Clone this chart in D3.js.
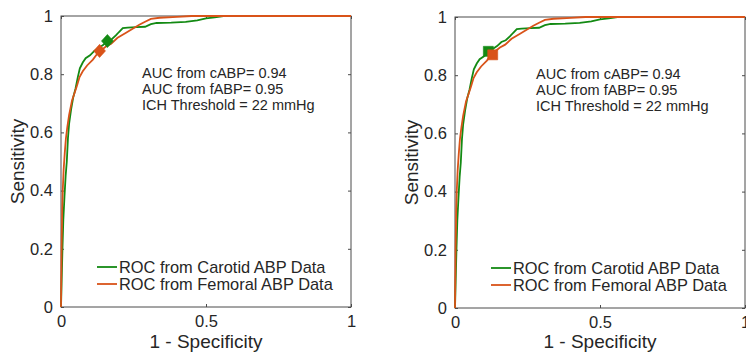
<!DOCTYPE html>
<html>
<head>
<meta charset="utf-8">
<script src="https://cdn.jsdelivr.net/npm/d3@7/dist/d3.min.js"></script>
<style>
  html, body { margin: 0; padding: 0; background: #fff; }
  svg { display: block; }
  text { font-family: "Liberation Sans", Arial, Helvetica, sans-serif; fill: #262626; }
</style>
</head>
<body>
<svg id="chart" width="746" height="353"></svg>
<script>
// ---- Data ----
const carotidROC = [
  [0,0],[0.002,0.08],[0.005,0.2],[0.008,0.3],[0.012,0.38],[0.016,0.45],[0.02,0.5],
  [0.024,0.58],[0.028,0.63],[0.035,0.68],[0.042,0.72],[0.05,0.75],[0.058,0.79],
  [0.065,0.82],[0.075,0.84],[0.085,0.855],[0.1,0.865],[0.115,0.88],[0.13,0.89],
  [0.145,0.9],[0.16,0.914],[0.175,0.92],[0.19,0.934],[0.2,0.945],[0.213,0.958],
  [0.23,0.96],[0.26,0.962],[0.29,0.963],[0.31,0.972],[0.33,0.976],[0.38,0.977],
  [0.43,0.98],[0.47,0.985],[0.5,0.992],[0.53,0.995],[0.56,1],[1,1]
];
const femoralROC = [
  [0,0],[0.002,0.2],[0.004,0.33],[0.006,0.4],[0.009,0.47],[0.013,0.53],[0.017,0.58],
  [0.022,0.62],[0.028,0.66],[0.038,0.71],[0.045,0.73],[0.055,0.76],[0.064,0.79],
  [0.075,0.81],[0.09,0.83],[0.11,0.85],[0.125,0.87],[0.135,0.88],[0.155,0.895],
  [0.173,0.905],[0.195,0.925],[0.22,0.94],[0.25,0.958],[0.27,0.97],[0.29,0.98],
  [0.31,0.99],[0.34,0.994],[0.4,0.997],[0.45,1],[1,1]
];
// operating points per panel [fpr, tpr]
const leftMarkers  = { carotid: [0.16, 0.914], femoral: [0.133, 0.88] };
const rightMarkers = { carotid: [0.115, 0.882], femoral: [0.13, 0.87] };
const xTicks = [0, 0.5, 1];
const yTicks = [0, 0.2, 0.4, 0.6, 0.8, 1];
const annotationLines = ["AUC from cABP= 0.94", "AUC from fABP= 0.95", "ICH Threshold = 22 mmHg"];
const legendLabels = ["ROC from Carotid ABP Data", "ROC from Femoral ABP Data"];
const xLabel = "1 - Specificity";
const yLabel = "Sensitivity";

const GREEN = "#138a13";
const ORANGE = "#d95319";
const AXIS = "#4a4a4a";

const svg = d3.select("#chart");

// MATLAB-style diamond (rotated square, slightly taller than wide)
const matlabDiamond = {
  draw(ctx, size) {
    const h = Math.sqrt(size) / 1.4, w = h * 0.9;
    ctx.moveTo(0, -h); ctx.lineTo(w, 0); ctx.lineTo(0, h); ctx.lineTo(-w, 0); ctx.closePath();
  }
};

function panel(opts) {
  const { x0, x1, y0, y1, markers, shape } = opts;
  const x = d3.scaleLinear().domain([0, 1]).range([x0, x1]);
  const y = d3.scaleLinear().domain([0, 1]).range([y1, y0]);
  const g = svg.append("g");

  // box
  g.append("rect").attr("x", x0).attr("y", y0).attr("width", x1 - x0).attr("height", y1 - y0)
    .attr("fill", "none").attr("stroke", AXIS).attr("stroke-width", 1);

  // axes (ticks inward, labels)
  const xa = g.append("g").attr("transform", `translate(0,${y1})`)
    .call(d3.axisBottom(x).tickValues(xTicks).tickSize(-3).tickPadding(8).tickFormat(d3.format("~g")));
  const xaTop = g.append("g").attr("transform", `translate(0,${y0})`)
    .call(d3.axisTop(x).tickValues(xTicks).tickSize(-3).tickFormat(""));
  const ya = g.append("g").attr("transform", `translate(${x0},0)`)
    .call(d3.axisLeft(y).tickValues(yTicks).tickSize(-3).tickPadding(8).tickFormat(d3.format("~g")));
  const yaR = g.append("g").attr("transform", `translate(${x1},0)`)
    .call(d3.axisRight(y).tickValues(yTicks).tickSize(-3).tickFormat(""));
  [xa, xaTop, ya, yaR].forEach(a => {
    a.select(".domain").remove();
    a.selectAll(".tick line").attr("stroke", AXIS);
    a.selectAll("text").attr("font-size", 16.5).attr("fill", "#262626")
      .style("font-family", '"Liberation Sans", Arial, sans-serif');
  });

  // curves
  const line = d3.line().x(d => x(d[0])).y(d => y(d[1]));
  g.append("path").datum(carotidROC).attr("d", line).attr("fill", "none")
    .attr("stroke", GREEN).attr("stroke-width", 1.8);
  g.append("path").datum(femoralROC).attr("d", line).attr("fill", "none")
    .attr("stroke", ORANGE).attr("stroke-width", 1.8);

  // markers
  const sym = shape === "diamond" ? matlabDiamond : d3.symbolSquare;
  const size = shape === "diamond" ? 85 : 100;
  [["carotid", GREEN], ["femoral", ORANGE]].forEach(([k, c]) => {
    g.append("path").attr("d", d3.symbol().type(sym).size(size)())
      .attr("transform", `translate(${x(markers[k][0])},${y(markers[k][1])})`)
      .attr("fill", c).attr("stroke", c).attr("stroke-width", 0.6);
  });

  // annotation
  annotationLines.forEach((t, i) => {
    g.append("text").attr("x", opts.annX).attr("y", opts.annY + i * 16)
      .attr("font-size", 14.5).text(t);
  });

  // legend
  legendLabels.forEach((t, i) => {
    const ly = opts.legY + i * 17;
    g.append("line").attr("x1", opts.legX).attr("x2", opts.legX + 20).attr("y1", ly).attr("y2", ly)
      .attr("stroke", i === 0 ? GREEN : ORANGE).attr("stroke-width", 1.8);
    g.append("text").attr("x", opts.legX + 22).attr("y", ly + 6).attr("font-size", 16.4).text(t);
  });

  // axis labels
  g.append("text").attr("x", (x0 + x1) / 2).attr("y", 348).attr("text-anchor", "middle")
    .attr("font-size", 19).text(xLabel);
  g.append("text").attr("transform", `translate(${opts.yLabX},${(y0 + y1) / 2}) rotate(-90)`)
    .attr("text-anchor", "middle").attr("font-size", 19).text(yLabel);
}

panel({ x0: 61, x1: 351, y0: 16, y1: 307, markers: leftMarkers, shape: "diamond",
        annX: 142, annY: 78, legX: 97, legY: 267, yLabX: 24 });
panel({ x0: 455, x1: 745, y0: 17, y1: 308, markers: rightMarkers, shape: "square",
        annX: 536, annY: 79, legX: 491, legY: 268, yLabX: 418 });
</script>
</body>
</html>
